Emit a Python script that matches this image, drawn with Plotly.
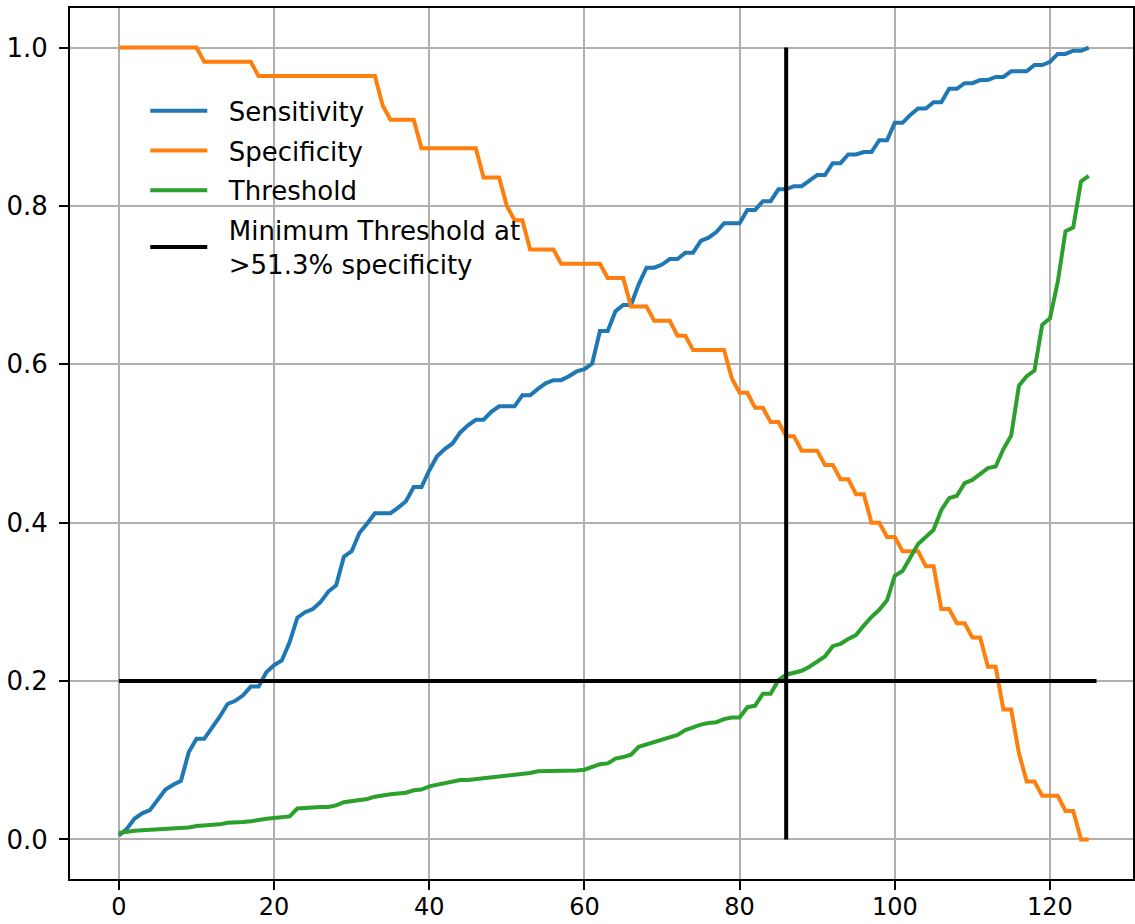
import plotly.graph_objects as go

index = list(range(126))

sensitivity = [
    0.005, 0.013, 0.026, 0.033, 0.037, 0.051, 0.063, 0.069, 0.074, 0.110,
    0.127, 0.127, 0.140, 0.155, 0.171, 0.175, 0.182, 0.193, 0.193, 0.211,
    0.220, 0.226, 0.249, 0.280, 0.287, 0.291, 0.300, 0.313, 0.321, 0.357,
    0.364, 0.387, 0.399, 0.412, 0.412, 0.412, 0.419, 0.427, 0.445, 0.445,
    0.466, 0.484, 0.493, 0.500, 0.514, 0.523, 0.530, 0.530, 0.540, 0.547,
    0.547, 0.547, 0.561, 0.561, 0.569, 0.576, 0.580, 0.580, 0.585, 0.591,
    0.594, 0.601, 0.642, 0.642, 0.667, 0.675, 0.675, 0.701, 0.722, 0.722,
    0.726, 0.733, 0.733, 0.741, 0.741, 0.756, 0.760, 0.767, 0.778, 0.778,
    0.778, 0.795, 0.795, 0.806, 0.806, 0.821, 0.821, 0.825, 0.825, 0.832,
    0.839, 0.839, 0.854, 0.854, 0.865, 0.865, 0.868, 0.868, 0.883, 0.883,
    0.905, 0.905, 0.915, 0.923, 0.923, 0.931, 0.931, 0.948, 0.948, 0.955,
    0.955, 0.959, 0.959, 0.963, 0.963, 0.970, 0.970, 0.970, 0.978, 0.978,
    0.982, 0.992, 0.992, 0.996, 0.996, 1.000,
]

specificity = (
    [1.0] * 11 + [0.982] * 7 + [0.964] * 16 + [0.927] + [0.909] * 4
    + [0.873] * 8 + [0.836] * 3 + [0.800] + [0.782] * 2 + [0.745] * 4
    + [0.727] * 6 + [0.709] * 3 + [0.673] * 3 + [0.655] * 3 + [0.636] * 2
    + [0.618] * 5 + [0.582] + [0.564] * 2 + [0.545] * 2 + [0.527] * 2
    + [0.509] * 2 + [0.491] * 3 + [0.473] * 2 + [0.455] * 2 + [0.436] * 2
    + [0.400] * 2 + [0.382] * 2 + [0.364] * 3 + [0.345] * 2 + [0.291] * 2
    + [0.273] * 2 + [0.255] * 2 + [0.218] * 2 + [0.164] * 2 + [0.109]
    + [0.073] * 2 + [0.055] * 3 + [0.036] * 2 + [0.0] * 2
)

threshold = [
    0.008, 0.010, 0.011, 0.0115, 0.012, 0.012, 0.013, 0.0135, 0.014, 0.015,
    0.017, 0.0175, 0.018, 0.019, 0.021, 0.021, 0.022, 0.023, 0.025, 0.026,
    0.027, 0.028, 0.029, 0.039, 0.040, 0.040, 0.041, 0.041, 0.043, 0.047,
    0.048, 0.050, 0.051, 0.054, 0.056, 0.057, 0.058, 0.059, 0.062, 0.063,
    0.067, 0.069, 0.071, 0.073, 0.075, 0.075, 0.076, 0.078, 0.079, 0.080,
    0.080, 0.081, 0.083, 0.084, 0.086, 0.086, 0.086, 0.087, 0.087, 0.087,
    0.088, 0.091, 0.095, 0.096, 0.102, 0.104, 0.107, 0.117, 0.120, 0.122,
    0.126, 0.128, 0.132, 0.138, 0.142, 0.145, 0.147, 0.148, 0.152, 0.154,
    0.154, 0.167, 0.169, 0.184, 0.184, 0.201, 0.208, 0.211, 0.213, 0.218,
    0.225, 0.231, 0.244, 0.247, 0.253, 0.258, 0.270, 0.281, 0.290, 0.302,
    0.333, 0.339, 0.356, 0.373, 0.382, 0.391, 0.416, 0.431, 0.434, 0.450,
    0.454, 0.462, 0.469, 0.471, 0.493, 0.510, 0.573, 0.585, 0.592, 0.650,
    0.658, 0.704, 0.768, 0.773, 0.831, 0.838,
]

# Reference lines: minimum threshold (y) and cut index (x)
min_threshold = 0.2
cut_index = 86
hline_x = [0, 126]
vline_y = [0.0, 1.0]

x_ticks = [0, 20, 40, 60, 80, 100, 120]
y_ticks = [0.0, 0.2, 0.4, 0.6, 0.8, 1.0]

series_names = ["Sensitivity", "Specificity", "Threshold"]
series_colors = ["#1f77b4", "#ff7f0e", "#2ca02c"]
ref_lines = ["Minimum Threshold at", "&gt;51.3% specificity"]

FONT = "DejaVu Sans"
FS = 26
PAD = "\u00a0\u00a0"

fig = go.Figure()
for name, vals, col in zip(series_names, [sensitivity, specificity, threshold], series_colors):
    fig.add_trace(go.Scatter(
        x=index, y=vals, mode="lines", name=PAD + name, legendgroup=name,
        line=dict(color=col, width=4),
    ))

fig.add_trace(go.Scatter(
    x=hline_x + [None, cut_index, cut_index],
    y=[min_threshold, min_threshold, None] + vline_y,
    mode="lines", name="<br>".join(PAD + s for s in ref_lines), legendgroup="ref",
    line=dict(color="black", width=4),
))

axis_common = dict(
    showline=True, linecolor="black", linewidth=2, mirror=True,
    showgrid=True, gridcolor="#b0b0b0", gridwidth=1.8,
    ticks="outside", ticklen=9, tickwidth=2, tickcolor="black",
    zeroline=False, automargin=False,
)

fig.update_layout(
    width=1135, height=924,
    margin=dict(l=70, r=2, t=8, b=45),
    plot_bgcolor="white", paper_bgcolor="white",
    font=dict(family=FONT, size=FS, color="black"),
    xaxis=dict(range=[-6.3, 130.7], tickvals=x_ticks, ticklabelstandoff=-4,
               tickfont=dict(family=FONT, size=24, color="black"), **axis_common),
    yaxis=dict(range=[-0.05, 1.05], tickvals=y_ticks,
               tickformat=".1f", ticklabelstandoff=6,
               tickfont=dict(family=FONT, size=FS, color="black"), **axis_common),
    legend=dict(
        x=0.0708, y=0.909, xanchor="left", yanchor="top",
        bgcolor="rgba(255,255,255,0)", borderwidth=0,
        font=dict(family=FONT, size=FS, color="black"),
        itemwidth=57, traceorder="grouped", tracegroupgap=3,
    ),
    showlegend=True,
)

fig.write_html(
    "out.html",
    config={"displayModeBar": False},
    post_script="document.body.style.margin='0';document.body.style.overflow='hidden';",
)
